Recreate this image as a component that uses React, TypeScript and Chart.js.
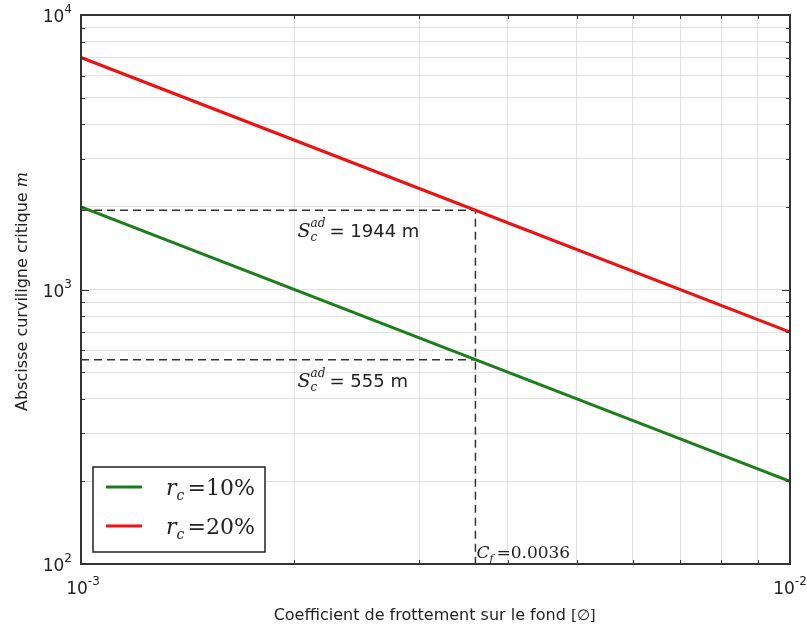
import React, { useEffect, useRef } from "react";
import { Chart, registerables } from "chart.js";

Chart.register(...registerables);

const xValues = [0.001, 0.0036, 0.01];
const green10 = [2000, 555, 200];
const red20 = [7000, 1944, 700];
const cfValue = 0.0036;
const markY = [1944, 555];
const yMin = 100;
const yMax = 10000;
const xMin = 0.001;
const xMax = 0.01;
const xGridTicks = [0.001, 0.002, 0.003, 0.004, 0.005, 0.006, 0.007, 0.008, 0.009, 0.01];
const yGridTicks = [100, 200, 300, 400, 500, 600, 700, 800, 900, 1000, 2000, 3000, 4000, 5000, 6000, 7000, 8000, 9000, 10000];

const SANS = "'DejaVu Sans', sans-serif";
const SERIF = "'DejaVu Serif', 'Liberation Serif', serif";

function drawPow(ctx: CanvasRenderingContext2D, exp: string, x: number, y: number, align: "right" | "center") {
  ctx.font = `17px ${SANS}`;
  const bw = ctx.measureText("10").width;
  ctx.font = `12px ${SANS}`;
  const ew = ctx.measureText(exp).width;
  const total = bw + ew;
  const x0 = align === "right" ? x - total : x - total / 2;
  ctx.fillStyle = "#222";
  ctx.textAlign = "left";
  ctx.textBaseline = "alphabetic";
  ctx.font = `17px ${SANS}`;
  ctx.fillText("10", x0, y);
  ctx.font = `12px ${SANS}`;
  ctx.fillText(exp, x0 + bw, y - 9);
}

function drawS(ctx: CanvasRenderingContext2D, x: number, y: number, rest: string) {
  ctx.fillStyle = "#222";
  ctx.textAlign = "left";
  ctx.textBaseline = "alphabetic";
  ctx.font = `italic 19px ${SERIF}`;
  ctx.fillText("S", x, y);
  const sw = ctx.measureText("S").width;
  ctx.font = `italic 12px ${SERIF}`;
  ctx.fillText("ad", x + sw, y - 10);
  ctx.fillText("c", x + sw, y + 4);
  ctx.font = `18px ${SANS}`;
  ctx.fillText(rest, x + sw + 19, y);
}

const overlay = {
  id: "overlay",
  afterDraw(chart: any) {
    const ctx: CanvasRenderingContext2D = chart.ctx;
    const { left, right, top, bottom } = chart.chartArea;
    const xs = chart.scales.x;
    const ys = chart.scales.y;
    ctx.save();
    ctx.strokeStyle = "#333";
    ctx.lineWidth = 1;
    ys.ticks.forEach((t: any) => {
      const py = Math.round(ys.getPixelForValue(t.value)) + 0.5;
      const major = Math.abs(Math.log10(t.value) - Math.round(Math.log10(t.value))) < 1e-6;
      const len = major ? 8 : 4;
      ctx.beginPath();
      ctx.moveTo(left, py);
      ctx.lineTo(left + len, py);
      ctx.moveTo(right, py);
      ctx.lineTo(right - len, py);
      ctx.stroke();
    });
    xs.ticks.forEach((t: any) => {
      const px = Math.round(xs.getPixelForValue(t.value)) + 0.5;
      const major = Math.abs(Math.log10(t.value) - Math.round(Math.log10(t.value))) < 1e-6;
      const len = major ? 8 : 4;
      ctx.beginPath();
      ctx.moveTo(px, bottom);
      ctx.lineTo(px, bottom - len);
      ctx.moveTo(px, top);
      ctx.lineTo(px, top + len);
      ctx.stroke();
    });
    ctx.strokeStyle = "#333";
    ctx.lineWidth = 2;
    ctx.strokeRect(left, top, right - left, bottom - top);

    drawPow(ctx, "4", left - 9, top + 7, "right");
    drawPow(ctx, "3", left - 9, ys.getPixelForValue(1000) + 7, "right");
    drawPow(ctx, "2", left - 9, bottom + 7, "right");
    drawPow(ctx, "-3", left + 2, bottom + 30, "center");
    drawPow(ctx, "-2", right, bottom + 30, "center");

    ctx.fillStyle = "#222";
    const xt = "Coefficient de frottement sur le fond ";
    ctx.font = `16px ${SERIF}`;
    const bw = ctx.measureText("[∅]").width;
    ctx.font = `16px ${SANS}`;
    const xtw = ctx.measureText(xt).width;
    const xStart = (left + right) / 2 - (xtw + bw) / 2;
    ctx.textAlign = "left";
    ctx.textBaseline = "alphabetic";
    ctx.fillText(xt, xStart, 620);
    ctx.font = `15px ${SERIF}`;
    ctx.fillText("[∅]", xStart + xtw, 620);

    ctx.save();
    ctx.translate(27, (top + bottom) / 2 + 2);
    ctx.rotate(-Math.PI / 2);
    const yt = "Abscisse curviligne critique ";
    ctx.font = `16px ${SANS}`;
    const ytw = ctx.measureText(yt).width;
    ctx.font = `italic 16px ${SERIF}`;
    const mw = ctx.measureText("m").width;
    const ys0 = -(ytw + mw) / 2;
    ctx.font = `16px ${SANS}`;
    ctx.fillText(yt, ys0, 0);
    ctx.font = `italic 16px ${SERIF}`;
    ctx.fillText("m", ys0 + ytw, 0);
    ctx.restore();

    const ax = xs.getPixelForValue(0.00202);
    drawS(ctx, ax, ys.getPixelForValue(markY[0]) + 27, "= 1944 m");
    drawS(ctx, ax, ys.getPixelForValue(markY[1]) + 27, "= 555 m");

    const cx = xs.getPixelForValue(cfValue) + 1;
    ctx.font = `italic 17px ${SERIF}`;
    ctx.fillStyle = "#222";
    ctx.fillText("C", cx, bottom - 6);
    const cw = ctx.measureText("C").width;
    ctx.font = `italic 11px ${SERIF}`;
    ctx.fillText("f", cx + cw, bottom - 2);
    ctx.font = `17px ${SERIF}`;
    ctx.fillText("=0.0036", cx + cw + 7, bottom - 6);

    const lx = 93, ly = 467, lw = 172, lh = 85;
    ctx.fillStyle = "#fff";
    ctx.fillRect(lx, ly, lw, lh);
    ctx.strokeStyle = "#222";
    ctx.lineWidth = 1.5;
    ctx.strokeRect(lx, ly, lw, lh);
    const items = [
      { c: "#1a7f1a", t: "=10%", y: 487 },
      { c: "#ee1111", t: "=20%", y: 526 },
    ];
    items.forEach((it) => {
      ctx.strokeStyle = it.c;
      ctx.lineWidth = 3;
      ctx.beginPath();
      ctx.moveTo(106, it.y);
      ctx.lineTo(142, it.y);
      ctx.stroke();
      ctx.fillStyle = "#222";
      ctx.font = `italic 22px ${SERIF}`;
      ctx.fillText("r", 166, it.y + 8);
      const rw = ctx.measureText("r").width;
      ctx.font = `italic 14px ${SERIF}`;
      ctx.fillText("c", 166 + rw, it.y + 13);
      ctx.font = `22px ${SERIF}`;
      ctx.fillText(it.t, 166 + rw + 11, it.y + 8);
    });
    ctx.restore();
  },
};

export default function App() {
  const ref = useRef<HTMLCanvasElement>(null);
  useEffect(() => {
    document.body.style.margin = "0";
    const pts = (ys: number[]) => xValues.map((x, i) => ({ x, y: ys[i] }));
    const chart = new Chart(ref.current!, {
      type: "line",
      data: {
        datasets: [
          {
            label: "r_c = 10%",
            data: pts(green10),
            borderColor: "#1a7f1a",
            borderWidth: 3,
            pointRadius: 0,
            order: 1,
          },
          {
            label: "r_c = 20%",
            data: pts(red20),
            borderColor: "#ee1111",
            borderWidth: 3,
            pointRadius: 0,
            order: 1,
          },
          {
            label: "guide1944",
            data: [
              { x: xMin, y: markY[0] },
              { x: cfValue, y: markY[0] },
              { x: cfValue, y: yMin },
            ],
            borderColor: "#333",
            borderWidth: 1.5,
            borderDash: [8, 5],
            pointRadius: 0,
            order: 2,
          },
          {
            label: "guide555",
            data: [
              { x: xMin, y: markY[1] },
              { x: cfValue, y: markY[1] },
            ],
            borderColor: "#333",
            borderWidth: 1.5,
            borderDash: [8, 5],
            pointRadius: 0,
            order: 2,
          },
        ],
      },
      options: {
        animation: false,
        responsive: false,
        events: [],
        layout: { padding: { left: 81, top: 15, right: 17, bottom: 66 } },
        plugins: { legend: { display: false }, tooltip: { enabled: false } },
        scales: {
          x: {
            type: "logarithmic",
            min: xMin,
            max: xMax,
            afterBuildTicks: (s: any) => {
              s.ticks = xGridTicks.map((v) => ({ value: v }));
            },
            ticks: { display: false },
            grid: { color: "#e2e2e2", lineWidth: 1, drawTicks: false },
            border: { display: false },
          },
          y: {
            type: "logarithmic",
            min: yMin,
            max: yMax,
            afterBuildTicks: (s: any) => {
              s.ticks = yGridTicks.map((v) => ({ value: v }));
            },
            ticks: { display: false },
            grid: { color: "#e2e2e2", lineWidth: 1, drawTicks: false },
            border: { display: false },
          },
        },
      },
      plugins: [overlay],
    });
    return () => chart.destroy();
  }, []);
  return <canvas ref={ref} width={807} height={630} style={{ display: "block" }} />;
}
